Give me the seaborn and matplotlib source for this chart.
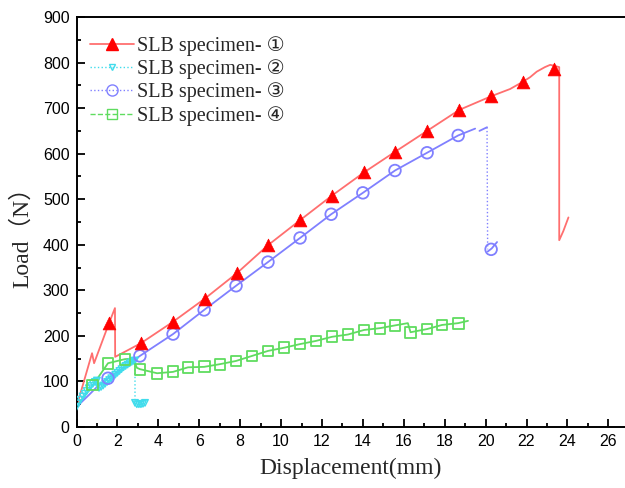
import matplotlib
matplotlib.use("Agg")
import matplotlib.pyplot as plt
from matplotlib.lines import Line2D
from matplotlib.font_manager import FontProperties
from matplotlib.ticker import MultipleLocator
import seaborn as sns
import pandas as pd

# ---------------- data ----------------
labels = ["SLB specimen- ①", "SLB specimen- ②", "SLB specimen- ③", "SLB specimen- ④"]

# specimen 1 (red)
red_x = [0.0, 0.76, 0.86, 1.59, 1.88, 1.89, 2.4, 3.15, 4.72, 6.28, 7.85, 9.36, 10.93, 12.49,
         14.06, 15.57, 17.14, 18.71, 20.27, 21.2, 21.83, 22.18, 22.5, 22.9, 23.16, 23.35,
         23.6, 23.6, 23.8, 24.05]
red_y = [44, 162, 140, 228, 261, 154, 166, 184, 231, 282, 338, 399, 454, 508,
         559, 604, 650, 696, 726, 742, 758, 768, 780, 790, 795, 793,
         790, 410, 430, 460]
red_mx = [1.59, 3.15, 4.72, 6.28, 7.85, 9.36, 10.93, 12.49, 14.06, 15.57, 17.14, 18.71,
          20.27, 21.83, 23.35]
red_my = [228, 184, 231, 282, 338, 399, 454, 508, 559, 604, 650, 696, 726, 758, 786]

# specimen 2 (cyan)
cyan_x = [0.0, 0.1, 0.2, 0.3, 0.4, 0.5, 0.6, 0.7, 0.8, 0.9, 1.0,
          1.1, 1.2, 1.3, 1.4, 1.5, 1.6, 1.7, 1.8, 1.9, 2.0, 2.1, 2.2, 2.3, 2.4, 2.5,
          2.6, 2.7, 2.8, 2.86, 2.86, 2.95, 3.05, 3.15, 3.25, 3.35]
cyan_y = [44, 52, 60, 67, 73, 79, 85, 90, 95, 99, 102,
          86, 88, 91, 95, 99, 103, 107, 111, 115, 119, 123, 127, 131, 134, 137,
          140, 143, 145, 146, 53, 50, 50, 50, 51, 53]

# specimen 3 (blue): curve pieces with line style
blue_x = [0.0, 0.6, 1.0, 1.54, 2.3, 3.1, 4.72, 6.24, 7.8, 9.36, 10.93, 12.45, 14.0, 15.57,
          17.14, 18.66, 19.49, 19.7, 20.07, 20.07, 20.1, 20.1, 20.3, 20.56]
blue_y = [44, 70, 88, 107, 130, 156, 204, 257, 310, 362, 415, 467, 514, 563,
          602, 640, 655, 650, 658, 658, 390, 385, 392, 406]
blue_seg = ["a"] * 17 + ["b"] * 2 + ["drop"] * 2 + ["c"] * 3
blue_mx = [1.54, 3.1, 4.72, 6.24, 7.8, 9.36, 10.93, 12.45, 14.0, 15.57, 17.14, 18.66, 20.27]
blue_my = [107, 156, 204, 257, 310, 362, 415, 467, 514, 563, 602, 640, 390]

# specimen 4 (green)
green_x = [0.0, 0.8, 1.54, 2.37, 2.77, 2.95, 3.1, 3.94, 4.72, 5.45, 6.24, 7.02, 7.8, 8.58,
           9.36, 10.15, 10.93, 11.71, 12.49, 13.27, 14.06, 14.84, 15.57, 16.2, 16.33,
           17.14, 17.87, 18.66, 19.14]
green_y = [44, 92, 140, 149, 150, 130, 127, 118, 121, 131, 132, 138, 145, 156,
           167, 174, 182, 189, 198, 203, 213, 217, 223, 228, 208,
           215, 224, 228, 233]
green_mx = [0.8, 1.54, 2.37, 3.1, 3.94, 4.72, 5.45, 6.24, 7.02, 7.8, 8.58, 9.36, 10.15,
            10.93, 11.71, 12.49, 13.27, 14.06, 14.84, 15.57, 16.33, 17.14, 17.87, 18.66]
green_my = [92, 140, 149, 127, 118, 121, 131, 132, 138, 145, 156, 167, 174,
            182, 189, 198, 203, 213, 217, 223, 208, 215, 224, 228]

x_ticks = list(range(0, 27, 2))
y_ticks = list(range(0, 901, 100))

# ---------------- style ----------------
sns.set_style("ticks")
plt.rcParams["font.family"] = ["Liberation Sans", "DejaVu Sans"]

RED_L, RED_M = "#ff6f6f", "#ff0000"
CYAN = "#40dcec"
BLUE = "#8080ff"
GREEN = "#5fdc5f"

fig = plt.figure(figsize=(6.25, 4.88), dpi=100)
W, H = 625, 488
ax = fig.add_axes([76.5 / W, 61 / H, 562.5 / W, 410 / H])

# lines
sns.lineplot(x=red_x, y=red_y, sort=False, estimator=None, color=RED_L, lw=1.3, ax=ax)
sns.lineplot(x=green_x, y=green_y, sort=False, estimator=None, color=GREEN, lw=1.3, ax=ax)
bdf = pd.DataFrame({"x": blue_x, "y": blue_y, "seg": blue_seg})
for seg, g in bdf.groupby("seg", sort=False):
    sns.lineplot(data=g, x="x", y="y", sort=False, estimator=None, color=BLUE,
                 lw=1.0 if seg == "drop" else 1.3,
                 linestyle=":" if seg == "drop" else "-", ax=ax)
sns.lineplot(x=cyan_x, y=cyan_y, sort=False, estimator=None, color=CYAN, lw=1.0,
             linestyle=":", ax=ax)

# markers
sns.scatterplot(x=cyan_x, y=cyan_y, marker="v", s=22, facecolor="none", edgecolor=CYAN,
                linewidth=1.0, ax=ax, zorder=3)
sns.scatterplot(x=green_mx, y=green_my, marker="s", s=60, facecolor="none", edgecolor=GREEN,
                linewidth=1.3, ax=ax, zorder=3)
sns.scatterplot(x=blue_mx, y=blue_my, marker="o", s=70, facecolor="none", edgecolor=BLUE,
                linewidth=1.3, ax=ax, zorder=4)
sns.scatterplot(x=red_mx, y=red_my, marker="^", s=85, color=RED_M, edgecolor=RED_M,
                linewidth=0.5, ax=ax, zorder=5)

# axes
ax.set_xlim(0, 27.5)
ax.set_ylim(0, 900)
ax.set_xticks(x_ticks)
ax.set_yticks(y_ticks)
ax.xaxis.set_minor_locator(MultipleLocator(1))
ax.yaxis.set_minor_locator(MultipleLocator(50))
ax.tick_params(which="both", direction="in", top=False, right=False, width=1.3,
               colors="black", labelsize=11.5, pad=5)
ax.tick_params(which="major", length=6)
ax.tick_params(which="minor", length=3)
for s in ["left", "bottom", "top", "right"]:
    ax.spines[s].set_visible(True)
    ax.spines[s].set_linewidth(1.4)
    ax.spines[s].set_color("black")

ax.set_xlabel("Displacement(mm)", family=["Liberation Serif", "DejaVu Serif"], fontsize=17)
ax.set_ylabel("Load（N）", family=["Liberation Serif", "Noto Sans CJK SC"], fontsize=17)
ax.xaxis.set_label_coords((351 - 76.5) / 562.5, (427 - 468) / 410)
ax.yaxis.set_label_coords((22 - 76.5) / 562.5, (427 - 232) / 410)
ax.xaxis.label.set_va("center")
ax.yaxis.label.set_va("center")

# legend
handles = [
    Line2D([], [], color=RED_L, lw=1.3, ls="-", marker="^", ms=9, mfc=RED_M, mec=RED_M),
    Line2D([], [], color=CYAN, lw=1.0, ls=":", marker="v", ms=5, mfc="none", mec=CYAN),
    Line2D([], [], color=BLUE, lw=1.0, ls=":", marker="o", ms=8, mfc="none", mec=BLUE),
    Line2D([], [], color=GREEN, lw=1.0, ls="--", marker="s", ms=7.5, mfc="none", mec=GREEN),
]
leg = ax.legend(handles, labels, loc="upper left",
                bbox_to_anchor=(90 / W, 1 - 36 / H), bbox_transform=fig.transFigure,
                frameon=False, borderpad=0, borderaxespad=0, handlelength=2.2,
                handletextpad=0.15, labelspacing=0.17,
                prop=FontProperties(family=["Liberation Serif", "DejaVu Sans"], size=14.5))

fig.savefig("out.png", dpi=100)
